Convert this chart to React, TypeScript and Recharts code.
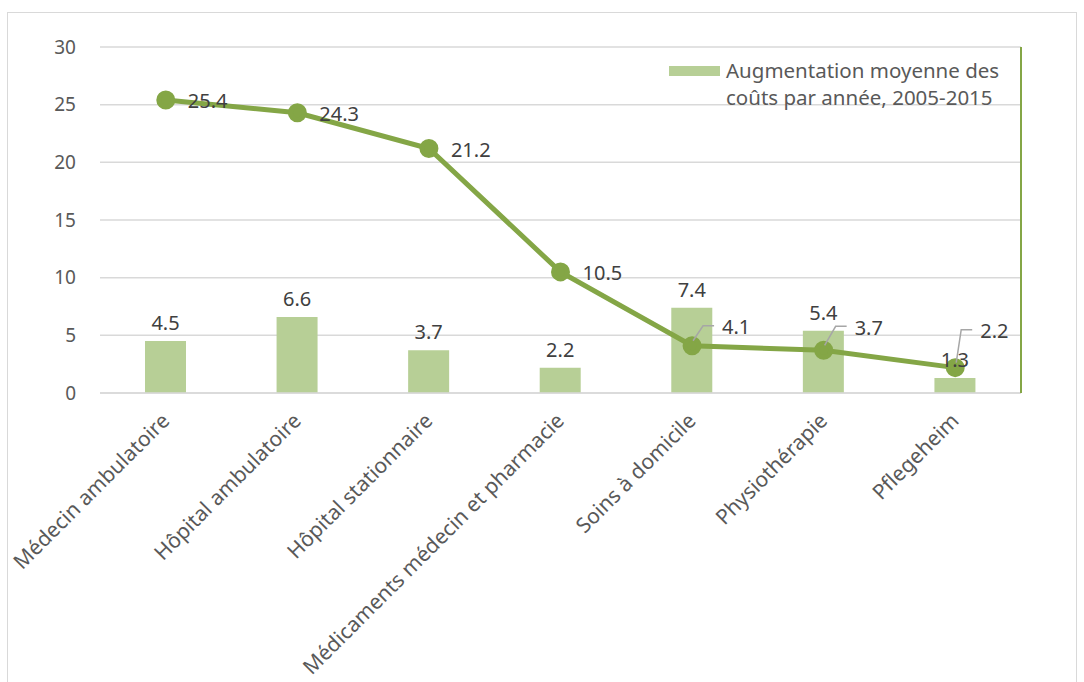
import {
  ComposedChart,
  Bar,
  Line,
  XAxis,
  YAxis,
  CartesianGrid,
  Legend,
  LabelList,
} from "recharts";

const CATEGORIES = [
  "Médecin ambulatoire",
  "Hôpital ambulatoire",
  "Hôpital stationnaire",
  "Médicaments médecin et pharmacie",
  "Soins à domicile",
  "Physiothérapie",
  "Pflegeheim",
];
const BAR_VALUES = [4.5, 6.6, 3.7, 2.2, 7.4, 5.4, 1.3];
const LINE_VALUES = [25.4, 24.3, 21.2, 10.5, 4.1, 3.7, 2.2];
const Y_TICKS = [0, 5, 10, 15, 20, 25, 30];
const LEGEND_LINES = ["Augmentation moyenne des", "coûts par année, 2005-2015"];

const data = CATEGORIES.map((name, i) => ({
  name,
  augmentation: BAR_VALUES[i],
  part: LINE_VALUES[i],
}));

const FONT = "'Noto Sans', sans-serif";
const BAR_COLOR = "#b7cf96";
const LINE_COLOR = "#84a646";
const TEXT = "#404040";
const AXIS_TEXT = "#595959";
const GRID = "#d9d9d9";

// leader offsets (dx, dy) for the crowded labels on the right side
const LEADERS: Record<number, [number, number]> = {
  4: [30, -20],
  5: [31, -24],
  6: [25, -38],
};

function LineLabel(props: any) {
  const { x, y, value, index } = props;
  const lead = LEADERS[index];
  if (!lead) {
    return (
      <text x={x + 22} y={y + 3} dominantBaseline="middle" fontSize={20} fill={TEXT} fontFamily={FONT}>
        {value}
      </text>
    );
  }
  const [dx, dy] = lead;
  const kx = x + dx - 19;
  return (
    <g>
      <polyline
        points={`${x + 1},${y - 5} ${kx},${y + dy} ${x + dx - 8},${y + dy}`}
        fill="none"
        stroke="#a6a6a6"
        strokeWidth={1.5}
      />
      <text x={x + dx} y={y + dy + 3} dominantBaseline="middle" fontSize={20} fill={TEXT} fontFamily={FONT}>
        {value}
      </text>
    </g>
  );
}

function XTick(props: any) {
  const { x, y, payload } = props;
  const ax = x + 5;
  const ay = y + 21;
  return (
    <text
      x={ax}
      y={ay}
      transform={`rotate(-45, ${ax}, ${ay})`}
      textAnchor="end"
      fontSize={21}
      fill={AXIS_TEXT}
      fontFamily={FONT}
    >
      {payload.value}
    </text>
  );
}

function LegendBox() {
  return (
    <div style={{ display: "flex", alignItems: "flex-start", fontFamily: FONT, fontSize: 20.5, color: AXIS_TEXT }}>
      <span style={{ display: "inline-block", width: 51, height: 10, background: BAR_COLOR, marginTop: 9, marginRight: 6 }} />
      <div style={{ lineHeight: "27px", whiteSpace: "nowrap" }}>
        {LEGEND_LINES.map((l) => (
          <div key={l}>{l}</div>
        ))}
      </div>
    </div>
  );
}

export default function App() {
  return (
    <div style={{ position: "relative", width: 1084, height: 682, overflow: "hidden", background: "#fff" }}>
      <style>{`body{margin:0}`}</style>
      <div
        style={{
          position: "absolute",
          left: 7,
          top: 12,
          width: 1070,
          height: 700,
          border: `1px solid ${GRID}`,
          boxSizing: "border-box",
        }}
      />
      <div style={{ position: "absolute", left: 0, top: 0 }}>
        <ComposedChart
          width={1084}
          height={682}
          data={data}
          margin={{ top: 47, right: 62, bottom: 0, left: 0 }}
        >
          <CartesianGrid vertical={false} stroke={GRID} strokeWidth={1.5} yAxisId="left" />
          <XAxis
            dataKey="name"
            height={289}
            interval={0}
            tick={<XTick />}
            tickLine={false}
            axisLine={{ stroke: GRID, strokeWidth: 1.5 }}
          />
          <YAxis
            yAxisId="left"
            width={100}
            domain={[0, 30]}
            ticks={Y_TICKS}
            tickLine={false}
            axisLine={false}
            tickMargin={18}
            tick={{ fontSize: 19, fill: AXIS_TEXT, fontFamily: FONT }}
          />
          <YAxis
            yAxisId="right"
            orientation="right"
            width={1}
            domain={[0, 30]}
            ticks={Y_TICKS}
            tick={false}
            tickLine={false}
            axisLine={{ stroke: LINE_COLOR, strokeWidth: 2 }}
          />
          <Legend
            layout="horizontal"
            verticalAlign="middle"
            align="center"
            content={<LegendBox />}
            wrapperStyle={{ position: "absolute", top: 57, left: 669, width: 380, height: 60 }}
          />
          <Bar yAxisId="left" dataKey="augmentation" fill={BAR_COLOR} barSize={41} isAnimationActive={false}>
            <LabelList dataKey="augmentation" position="top" offset={11} fontSize={20} fill={TEXT} fontFamily={FONT} />
          </Bar>
          <Line
            yAxisId="right"
            dataKey="part"
            stroke={LINE_COLOR}
            strokeWidth={5}
            dot={{ r: 7, fill: LINE_COLOR, stroke: LINE_COLOR }}
            legendType="none"
            isAnimationActive={false}
          >
            <LabelList dataKey="part" content={<LineLabel />} />
          </Line>
        </ComposedChart>
      </div>
    </div>
  );
}
